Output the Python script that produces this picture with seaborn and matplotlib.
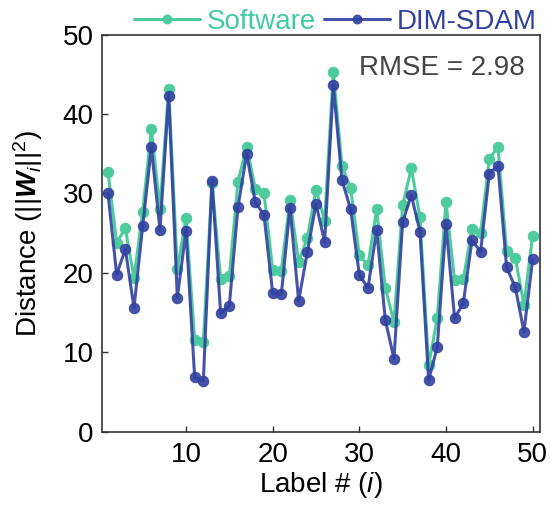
import matplotlib
matplotlib.use("Agg")
import matplotlib.pyplot as plt
import seaborn as sns
import pandas as pd

# etichette 1..50
labels = list(range(1, 51))

software = [32.7, 23.8, 25.6, 19.4, 27.7, 38.1, 28.1, 43.2, 20.5, 26.9,
            11.6, 11.3, 31.3, 19.2, 19.6, 31.5, 35.9, 30.6, 30.1, 20.4,
            20.3, 29.2, 21.4, 24.4, 30.5, 26.6, 45.3, 33.4, 30.7, 22.2,
            21.0, 28.0, 18.1, 13.8, 28.5, 33.2, 27.0, 8.4, 14.3, 28.9,
            19.1, 19.2, 25.5, 25.0, 34.3, 35.9, 22.8, 21.9, 16.0, 24.7]

dim_sdam = [30.0, 19.8, 23.0, 15.6, 25.9, 35.8, 25.4, 42.3, 16.9, 25.3,
            6.9, 6.4, 31.6, 14.9, 15.9, 28.3, 35.0, 28.9, 27.3, 17.5,
            17.3, 28.2, 16.5, 22.6, 28.7, 23.9, 43.6, 31.7, 28.0, 19.8,
            18.1, 25.4, 14.1, 9.2, 26.4, 29.8, 25.2, 6.5, 10.7, 26.1,
            14.3, 16.2, 24.1, 22.7, 32.5, 33.5, 20.7, 18.2, 12.6, 21.7]

rmse_text = "RMSE = 2.98"

green = "#4ECB9D"
blue = "#3141A0"
fs = 20

sns.set_style("ticks")
plt.rcParams["font.family"] = ["Liberation Sans", "DejaVu Sans"]
plt.rcParams["text.color"] = "black"
plt.rcParams["axes.labelcolor"] = "black"
plt.rcParams["mathtext.fontset"] = "custom"
plt.rcParams["mathtext.rm"] = "Liberation Sans"
plt.rcParams["mathtext.it"] = "Liberation Sans:italic"
plt.rcParams["mathtext.bf"] = "Liberation Sans:bold"
plt.rcParams["mathtext.bfit"] = "Liberation Sans:bold:italic"

data = pd.DataFrame({"label": labels, "Software": software, "DIM-SDAM": dim_sdam})

fig = plt.figure(figsize=(5.51, 5.16), dpi=100)
ax = fig.add_axes([0.185, 0.163, 0.795, 0.770])

sns.lineplot(x="label", y="Software", data=data, ax=ax, color=green, lw=2.2,
             marker="o", markersize=7.5, markeredgecolor=green, label="Software")
sns.lineplot(x="label", y="DIM-SDAM", data=data, ax=ax, color=blue, lw=2.2,
             marker="o", markersize=7.5, markeredgecolor=blue, alpha=0.9,
             label="DIM-SDAM")

ax.set_xlim(0.3, 50.85)
ax.set_ylim(0, 50)
ax.set_xticks([10, 20, 30, 40, 50])
ax.set_yticks([0, 10, 20, 30, 40, 50])
ax.tick_params(direction="in", labelsize=fs, length=4, width=1, color="#333333",
               labelcolor="black")
ax.tick_params(axis="x", pad=7)
ax.tick_params(axis="y", pad=6)
for s in ax.spines.values():
    s.set_color("#333333")
    s.set_linewidth(1.2)

ax.set_xlabel(r"Label # ($i$)", fontsize=fs)
ax.set_ylabel(r"Distance ($||\boldsymbol{W}_i||^2$)", fontsize=fs)
ax.xaxis.set_label_coords(0.5, -0.097)
ax.yaxis.set_label_coords(-0.13, 0.5)

ax.text(0.966, 0.948, rmse_text, transform=ax.transAxes, ha="right", va="top",
        fontsize=fs, color="#444444")

leg = ax.legend(loc="lower center", bbox_to_anchor=(0.533, 1.0), ncol=2,
                frameon=False, fontsize=fs, handlelength=2.35, handletextpad=0.25,
                columnspacing=0.3, markerscale=0.85, borderpad=0, borderaxespad=0)
for txt, c in zip(leg.get_texts(), ["#42CBA6", blue]):
    txt.set_color(c)

fig.savefig("out.png", dpi=100)
